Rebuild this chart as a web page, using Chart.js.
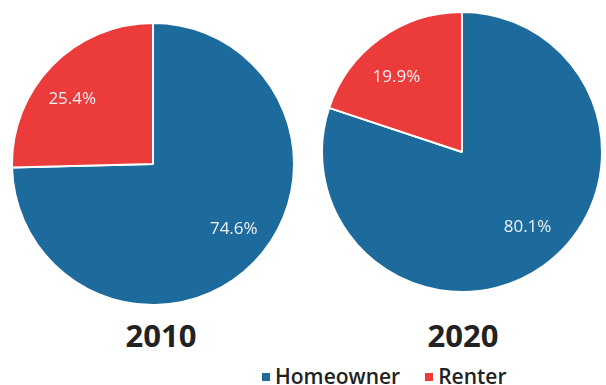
<!DOCTYPE html>
<html>
<head>
<meta charset="utf-8">
<script src="https://cdn.jsdelivr.net/npm/chart.js@4.4.0/dist/chart.umd.min.js"></script>
<style>
  html, body { margin: 0; padding: 0; background: #fff; }
  body { width: 606px; height: 385px; position: relative; overflow: hidden; font-family: "Open Sans", sans-serif; }
  .pie { position: absolute; }
  .year { position: absolute; top: 314px; width: 160px; text-align: center; font: bold 31px "Open Sans", sans-serif; color: #222; }
  .legend { position: absolute; top: 362px; left: 262px; white-space: nowrap; font: 600 21px "Open Sans", sans-serif; color: #222; }
  .legend span.item { margin-right: 25px; }
  .legend span.sq { display: inline-block; width: 8px; height: 8px; margin-right: 5px; vertical-align: 3px; }
</style>
</head>
<body>
<canvas id="pie2010" class="pie" width="284" height="284" style="left:11px;top:22px"></canvas>
<canvas id="pie2020" class="pie" width="282" height="282" style="left:321px;top:11px"></canvas>
<div class="year" style="left:81px">2010</div>
<div class="year" style="left:383px">2020</div>
<div class="legend" id="legend"></div>

<script>
const categories = ['Homeowner', 'Renter'];
const shares2010 = [74.6, 25.4];
const shares2020 = [80.1, 19.9];
const colors = ['#1d6a9c', '#ec3b3b'];

// Percent labels sitting inside each slice, pushed out a bit more sideways than up/down
const sliceLabels = {
    id: 'sliceLabels',
    afterDatasetsDraw(chart) {
        const ctx = chart.ctx;
        const meta = chart.getDatasetMeta(0);
        ctx.save();
        ctx.font = '17px "Open Sans", sans-serif';
        ctx.fillStyle = '#eef2f5';
        ctx.textAlign = 'center';
        ctx.textBaseline = 'middle';
        meta.data.forEach((arc, i) => {
            const p = arc.getProps(['x', 'y', 'startAngle', 'endAngle', 'outerRadius'], true);
            const mid = (p.startAngle + p.endAngle) / 2;
            const rx = p.outerRadius * 0.8;
            const ry = p.outerRadius * 0.66;
            const v = chart.data.datasets[0].data[i];
            ctx.fillText(v.toFixed(1) + '%', p.x + Math.cos(mid) * rx, p.y + Math.sin(mid) * ry);
        });
        ctx.restore();
    }
};

function makePie(id, values) {
    return new Chart(document.getElementById(id), {
        type: 'pie',
        data: {
            labels: categories,
            datasets: [{
                data: values,
                backgroundColor: colors,
                borderColor: '#ffffff',
                borderWidth: 2
            }]
        },
        options: {
            responsive: false,
            animation: false,
            layout: { padding: 0 },
            plugins: {
                legend: { display: false },
                tooltip: { enabled: false }
            }
        },
        plugins: [sliceLabels]
    });
}

makePie('pie2010', shares2010);
makePie('pie2020', shares2020);

// Shared legend under both pies
const legend = document.getElementById('legend');
categories.forEach((label, i) => {
    const item = document.createElement('span');
    item.className = 'item';
    item.innerHTML = `<span class="sq" style="background:${colors[i]}"></span>${label}`;
    legend.appendChild(item);
});
</script>
</body>
</html>
